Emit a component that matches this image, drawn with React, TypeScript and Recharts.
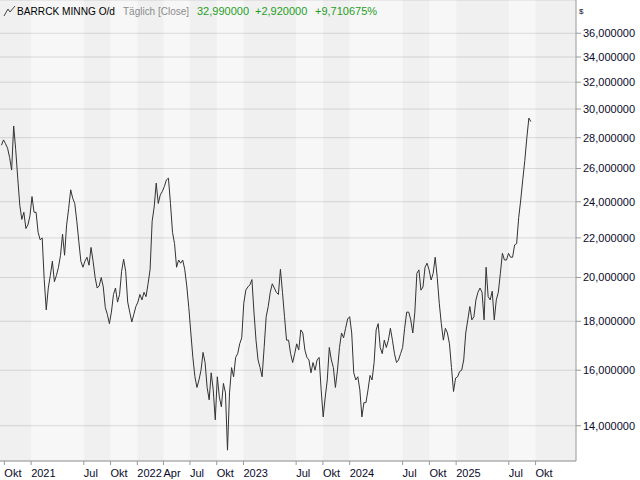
import {
  CartesianGrid,
  Line,
  LineChart,
  ReferenceArea,
  XAxis,
  YAxis,
} from "recharts";

// weekly closes, first week starting 2020-09-21
const firstWeek = "2020-09-21";
const weeklyClose = [
  27.5, 27.85, 27.6, 27.3, 26.7, 25.9, 28.8, 27.2, 25.4, 23.8,
  23.0, 23.4, 22.5, 22.7, 23.2, 24.3, 23.4, 23.4, 22.3, 21.9,
  22.0, 19.9, 18.5, 19.5, 20.1, 20.8, 19.8, 20.1, 20.5, 21.1,
  22.2, 21.1, 22.7, 23.6, 24.7, 24.2, 23.9, 22.9, 21.8, 20.8,
  20.5, 20.8, 21.0, 20.6, 21.5, 20.8, 20.0, 19.5, 19.6, 20.0,
  19.55, 18.6, 18.3, 17.9, 18.4, 19.2, 19.5, 18.85, 19.2, 20.3,
  20.9, 20.3, 18.85, 18.4, 17.97, 18.3, 18.65, 18.85, 19.2,
  18.95, 19.3, 19.1, 19.7, 20.4, 22.9, 23.7, 25.1, 23.9, 24.4,
  24.6, 24.9, 25.3, 25.4, 23.9, 22.3, 21.7, 20.5, 20.86, 20.7,
  20.86, 20.4, 19.6, 18.6, 17.5, 16.5, 15.75, 15.35, 15.63, 16.0,
  16.7, 16.3, 15.35, 14.9, 15.9, 15.26, 14.2, 15.75, 15.0, 14.65,
  15.5, 15.15, 13.2, 15.15, 16.1, 15.75, 16.5, 16.65, 17.05, 17.3,
  18.8, 19.4, 19.55, 19.65, 19.9, 18.4, 17.2, 16.4, 16.1, 15.75,
  16.9, 18.2, 18.65, 19.3, 19.7, 19.5, 19.3, 19.2, 20.4, 19.3,
  18.2, 17.2,
  17.2, 16.65, 16.3, 16.65, 17.05, 16.8, 17.63, 17.5, 16.8, 16.5,
  16.4, 15.9, 16.3, 16.0, 16.4, 16.5, 15.26, 14.3, 15.0, 15.63,
  16.9, 16.4, 16.1, 15.35, 16.0, 16.9, 17.5, 17.3, 17.7, 18.1,
  18.2, 17.5, 15.9, 15.63, 15.75, 15.26, 14.3, 14.8, 14.8, 15.26,
  15.8, 15.63, 16.3, 17.63, 17.9, 16.9, 16.65, 17.2, 16.9, 17.2,
  17.7, 17.2, 16.65, 16.3, 16.4, 16.65, 16.9, 17.7, 18.4, 18.4,
  18.06, 17.5, 18.4, 20.2, 20.37, 19.4, 19.55, 20.5, 20.7, 20.37,
  19.88,
  20.2, 21.0, 20.0, 18.8, 17.9, 17.2, 17.7, 17.5, 17.05, 16.1,
  15.2, 15.7, 15.75, 15.95, 16.0, 16.4, 17.5, 18.06, 18.65, 18.06,
  18.2, 18.95, 19.3, 19.5, 19.3, 18.06, 20.5, 19.1, 18.95, 19.35,
  18.06, 18.95, 19.3, 20.2, 21.2, 20.86, 20.86, 21.2, 21.0, 21.0,
  21.63, 21.7, 23.1, 24.1, 25.3, 26.5, 28.0, 29.35, 29.1,
];

const xStart = "2020-09-16";
const xEnd = "2026-02-17";
const xTickDates = [
  "2020-10-01", "2021-01-01", "2021-07-01", "2021-10-01", "2022-01-01",
  "2022-04-01", "2022-07-01", "2022-10-01", "2023-01-01", "2023-07-01",
  "2023-10-01", "2024-01-01", "2024-07-01", "2024-10-01", "2025-01-01",
  "2025-07-01", "2025-10-01",
];
const xTickLabels = [
  "Okt", "2021", "Jul", "Okt", "2022", "Apr", "Jul", "Okt", "2023", "Jul",
  "Okt", "2024", "Jul", "Okt", "2025", "Jul", "Okt",
];
const yTicks = [14, 16, 18, 20, 22, 24, 26, 28, 30, 32, 34, 36];
const yDomain = [12.86, 39.0];

const DAY = 86400000;
const ts = (s: string) => Date.parse(s + "T00:00:00Z");

const data = weeklyClose.map((close, i) => ({ t: ts(firstWeek) + i * 7 * DAY, close }));
const xTicks = xTickDates.map(ts);
const labelByTs = new Map(xTicks.map((t, i) => [t, xTickLabels[i]]));

// shaded bands alternate between labelled ticks
const bounds = [ts(xStart), ...xTicks.slice(1), ts(xEnd)];
const darkBands: [number, number][] = [];
for (let i = 0; i < bounds.length - 1; i++) {
  if (i % 2 === 0) darkBands.push([bounds[i], bounds[i + 1]]);
}

const FONT = "'Liberation Sans', Arial, sans-serif";
const TEXT = "#0a0a2a";

function XTick({ x, y, payload }: any) {
  return (
    <text x={x} y={y} dy={10} textAnchor="start" fontSize={11} fill={TEXT} fontFamily={FONT}>
      {labelByTs.get(payload.value) ?? ""}
    </text>
  );
}

export default function App() {
  return (
    <div style={{ position: "absolute", left: 0, top: 0, width: 640, height: 480, background: "#fff", fontFamily: FONT }}>
      <LineChart width={640} height={480} data={data} margin={{ top: 0, right: 0, bottom: 0, left: 0 }}>
        <CartesianGrid vertical={false} stroke="#d9d9d9" fill="#f7f7f7" />
        {darkBands.map(([a, b], i) => (
          <ReferenceArea key={i} x1={a} x2={b} fill="#000" fillOpacity={0.028} stroke="none" ifOverflow="hidden" />
        ))}
        <XAxis
          dataKey="t"
          type="number"
          domain={[ts(xStart), ts(xEnd)]}
          ticks={xTicks}
          interval={0}
          tick={<XTick />}
          tickSize={4}
          height={19}
          stroke="#9a9a9a"
          allowDataOverflow
        />
        <YAxis yAxisId="edge" orientation="left" width={0} tick={false} tickLine={false} stroke="#a0a0a0" />
        <YAxis
          orientation="right"
          scale="log"
          domain={yDomain}
          ticks={yTicks}
          interval={0}
          width={64}
          tickSize={5}
          stroke="#9a9a9a"
          allowDataOverflow
          tick={{ fontSize: 11, fill: TEXT, fontFamily: FONT }}
          tickFormatter={(v: number) => v.toFixed(6).replace(".", ",")}
        />
        <Line type="linear" dataKey="close" stroke="#333" strokeWidth={1} dot={false} activeDot={false} isAnimationActive={false} />
      </LineChart>
      <svg width={640} height={22} style={{ position: "absolute", left: 0, top: 0, pointerEvents: "none" }}>
        <polyline points="4,16 8,9 10,12 15,6" fill="none" stroke="#444" strokeWidth={1} />
        <text x={17} y={15} fontSize={11} fill="#000" textLength={98} lengthAdjust="spacingAndGlyphs">BARRCK MINNG O/d</text>
        <text x={123} y={15} fontSize={11} fill="#8c8c8c" textLength={66} lengthAdjust="spacingAndGlyphs">Täglich [Close]</text>
        <text x={197} y={15} fontSize={11} fill="#1f9e1f">32,990000</text>
        <text x={255} y={15} fontSize={11} fill="#1f9e1f">+2,920000</text>
        <text x={315} y={15} fontSize={11} fill="#1f9e1f">+9,710675%</text>
        <text x={579} y={14} fontSize={8} fill={TEXT}>$</text>
      </svg>
    </div>
  );
}
